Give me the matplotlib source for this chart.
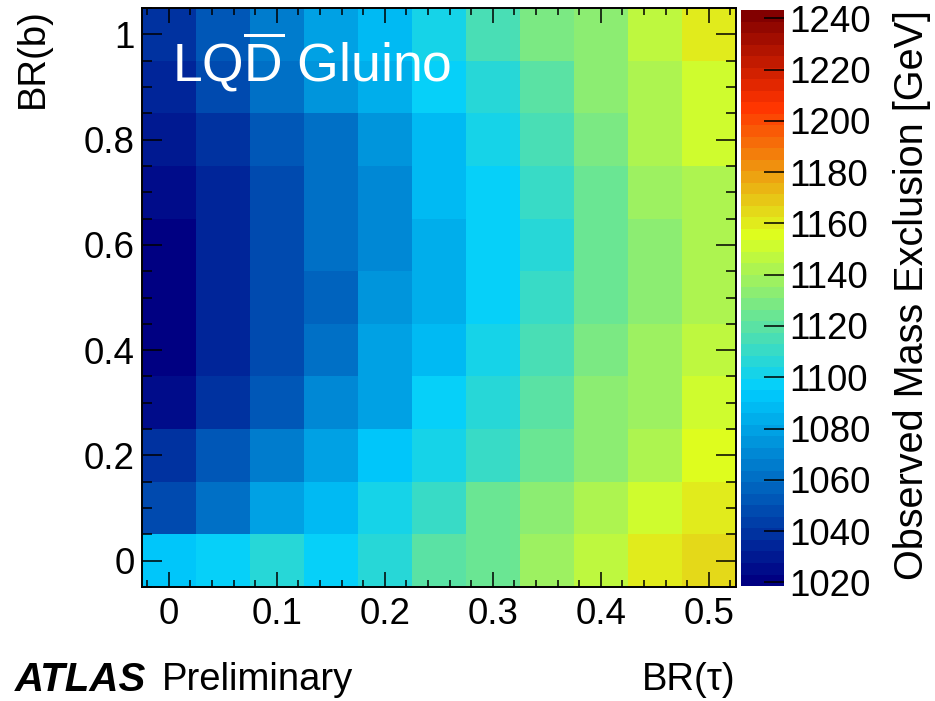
import numpy as np
import matplotlib.pyplot as plt
from matplotlib.colors import LinearSegmentedColormap
from matplotlib.ticker import MultipleLocator

plt.rcParams["font.family"] = ["Liberation Sans", "DejaVu Sans"]
plt.rcParams["mathtext.fontset"] = "custom"
plt.rcParams["mathtext.rm"] = "Liberation Sans"

# bin centres
br_tau = [0.0, 0.05, 0.1, 0.15, 0.2, 0.25, 0.3, 0.35, 0.4, 0.45, 0.5]
br_b = [0.0, 0.1, 0.2, 0.3, 0.4, 0.5, 0.6, 0.7, 0.8, 0.9, 1.0]

# observed mass exclusion [GeV], one row per BR(b) bin (bottom to top)
mass_b00 = [1092, 1099, 1106, 1099, 1108, 1118, 1126, 1139, 1148, 1158, 1165]
mass_b01 = [1050, 1063, 1078, 1089, 1100, 1112, 1122, 1132, 1142, 1150, 1162]
mass_b02 = [1040, 1052, 1067, 1078, 1094, 1101, 1112, 1126, 1135, 1143, 1154]
mass_b03 = [1027, 1041, 1054, 1069, 1081, 1095, 1104, 1118, 1131, 1139, 1150]
mass_b04 = [1022, 1034, 1050, 1060, 1077, 1089, 1100, 1113, 1127, 1138, 1147]
mass_b05 = [1021, 1034, 1048, 1058, 1074, 1085, 1099, 1110, 1123, 1133, 1144]
mass_b06 = [1022, 1034, 1049, 1061, 1072, 1085, 1097, 1106, 1123, 1133, 1143]
mass_b07 = [1025, 1035, 1050, 1062, 1072, 1087, 1098, 1110, 1123, 1136, 1144]
mass_b08 = [1028, 1037, 1052, 1063, 1075, 1089, 1101, 1113, 1127, 1140, 1149]
mass_b09 = [1035, 1048, 1062, 1073, 1085, 1095, 1104, 1119, 1132, 1142, 1153]
mass_b10 = [1037, 1052, 1066, 1079, 1090, 1102, 1113, 1127, 1135, 1147, 1158]

xtick_vals = [0, 0.1, 0.2, 0.3, 0.4, 0.5]
xtick_labels = ["0", "0.1", "0.2", "0.3", "0.4", "0.5"]
ytick_vals = [0, 0.2, 0.4, 0.6, 0.8, 1.0]
ytick_labels = ["0", "0.2", "0.4", "0.6", "0.8", "1"]
ztick_vals = [1020, 1040, 1060, 1080, 1100, 1120, 1140, 1160, 1180, 1200, 1220, 1240]

mass = np.array([mass_b00, mass_b01, mass_b02, mass_b03, mass_b04, mass_b05,
                 mass_b06, mass_b07, mass_b08, mass_b09, mass_b10], dtype=float)

# bin edges from the centres
xc = np.array(br_tau)
yc = np.array(br_b)
dx = xc[1] - xc[0]
dy = yc[1] - yc[0]
xedges = np.append(xc - dx / 2, xc[-1] + dx / 2)
yedges = np.append(yc - dy / 2, yc[-1] + dy / 2)

# ROOT "pretty" palette, 50 steps
stops = [0.00, 0.34, 0.61, 0.84, 1.00]
reds = [0.00, 0.00, 0.87, 1.00, 0.51]
greens = [0.00, 0.81, 1.00, 0.20, 0.00]
blues = [0.51, 1.00, 0.12, 0.00, 0.00]
pretty = LinearSegmentedColormap.from_list(
    "pretty", list(zip(stops, zip(reds, greens, blues))), N=50)

fig = plt.figure(figsize=(9.35, 7.01), dpi=100)
ax = fig.add_axes([0.1516, 0.1626, 0.6353, 0.8260])
cax = fig.add_axes([0.7925, 0.1640, 0.0460, 0.8217])

mesh = ax.pcolormesh(xedges, yedges, mass, cmap=pretty, vmin=1018.6, vmax=1243.2)
ax.set_xlim(xedges[0], xedges[-1])
ax.set_ylim(yedges[0], yedges[-1])

ax.set_xticks(xtick_vals, labels=xtick_labels)
ax.set_yticks(ytick_vals, labels=ytick_labels)
ax.xaxis.set_minor_locator(MultipleLocator(0.02))
ax.yaxis.set_minor_locator(MultipleLocator(0.05))
ax.tick_params(axis="x", which="major", direction="in", top=True, bottom=True,
               length=10.8, width=1.1, labelsize=26.5, pad=7)
ax.tick_params(axis="x", which="minor", direction="in", top=True, bottom=True,
               length=5.2, width=1.1)
ax.tick_params(axis="y", which="major", direction="in", left=True, right=True,
               length=14.4, width=1.1, labelsize=26.5, pad=5)
ax.tick_params(axis="y", which="minor", direction="in", left=True, right=True,
               length=7.2, width=1.1)
for sp in ax.spines.values():
    sp.set_linewidth(1.4)

ax.set_xlabel("BR(τ)", loc="right", fontsize=27.5, va="center")
ax.xaxis.set_label_coords(1.0, -0.161)
ax.set_ylabel("BR(b)", loc="top", fontsize=27.5, va="center")
ax.yaxis.set_label_coords(-0.183, 1.0)

ax.text(0.0505, 0.873, r"LQ$\overline{\mathrm{D}}$ Gluino", transform=ax.transAxes,
        color="white", fontsize=38.5, ha="left", va="baseline")

cbar = fig.colorbar(mesh, cax=cax, ticks=ztick_vals)
cbar.outline.set_visible(False)
cbar.ax.tick_params(direction="in", length=14.4, width=1.1, labelsize=26.5, pad=4)
cbar.ax.minorticks_off()
cbar.set_label("Observed Mass Exclusion [GeV]", loc="top", fontsize=28.5, va="center")
cbar.ax.yaxis.set_label_coords(3.98, 1.0)

fig.text(15 / 935, 1 - 680 / 701, "ATLAS", fontsize=29, fontweight="bold",
         fontstyle="italic", ha="left", va="center")
fig.text(162 / 935, 1 - 680 / 701, "Preliminary", fontsize=27.5,
         ha="left", va="center")

fig.savefig("out.png", dpi=100)
